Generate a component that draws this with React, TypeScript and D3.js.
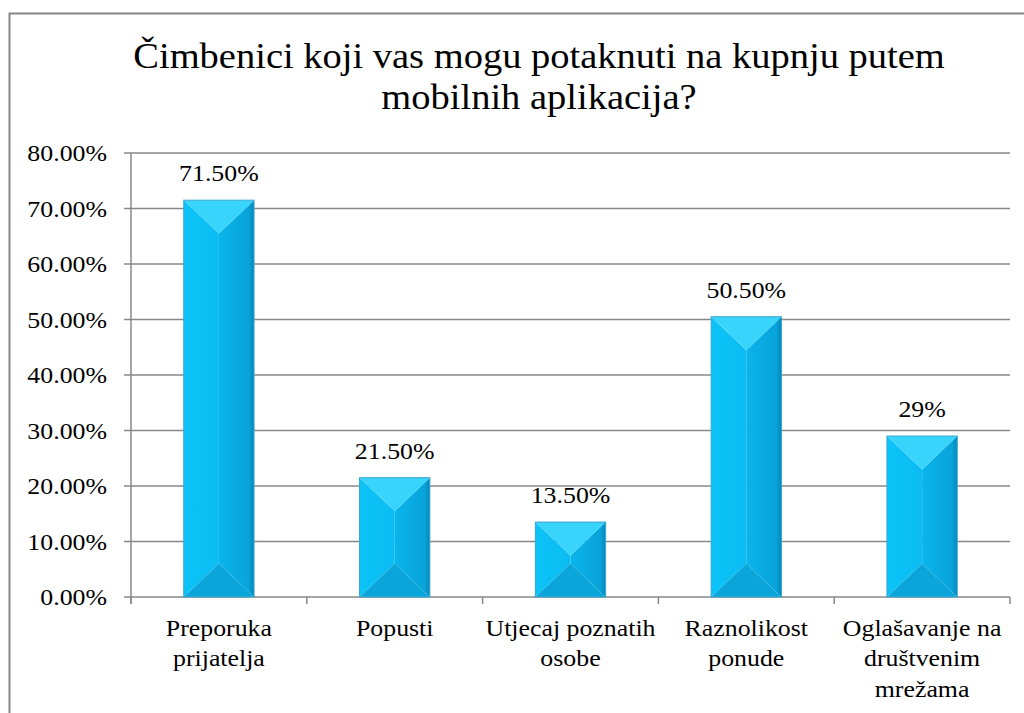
import React from "react";
import * as d3 from "d3";

const categories: string[][] = [
  ["Preporuka", "prijatelja"],
  ["Popusti"],
  ["Utjecaj poznatih", "osobe"],
  ["Raznolikost", "ponude"],
  ["Oglašavanje na", "društvenim", "mrežama"],
];
const values: number[] = [71.5, 21.5, 13.5, 50.5, 29];
const valueLabels: string[] = ["71.50%", "21.50%", "13.50%", "50.50%", "29%"];
const yTicks: number[] = [0, 10, 20, 30, 40, 50, 60, 70, 80];
const titleLines: string[] = [
  "Čimbenici koji vas mogu potaknuti na kupnju putem",
  "mobilnih aplikacija?",
];

const W = 1024;
const H = 713;
const left = 131;
const right = 1010;
const top = 153;
const bottom = 597;
const FONT = '"Liberation Serif", "Times New Roman", Times, serif';
const SX = 1.1;

function T(props: {
  x: number;
  y: number;
  size: number;
  anchor?: string;
  lines: string[];
  lh?: number;
}) {
  const { x, y, size, anchor = "middle", lines, lh = 0 } = props;
  return (
    <text
      transform={`translate(${x},${y}) scale(${SX},1)`}
      textAnchor={anchor}
      style={{ fontFamily: FONT, fontSize: `${size}px` }}
      fill="#000"
    >
      {lines.map((l, j) => (
        <tspan key={j} x={0} y={j * lh}>
          {l}
        </tspan>
      ))}
    </text>
  );
}

export default function App() {
  const x = d3
    .scaleBand<number>()
    .domain(values.map((_, i) => i))
    .range([left, right])
    .paddingInner(0.6)
    .paddingOuter(0.3);
  const y = d3.scaleLinear().domain([0, 80]).range([bottom, top]);
  const bw = x.bandwidth();
  const step = (right - left) / values.length;

  return (
    <svg
      width={W}
      height={H}
      style={{ position: "absolute", left: 0, top: 0, background: "#fff", fontFamily: FONT }}
    >
      <defs>
        <linearGradient id="sideL" x1="0" x2="1" y1="0" y2="0">
          <stop offset="0" stopColor="#0cc3f8" />
          <stop offset="1" stopColor="#0bbcf2" />
        </linearGradient>
        <linearGradient id="sideR" x1="0" x2="1" y1="0" y2="0">
          <stop offset="0" stopColor="#0ab5ec" />
          <stop offset="0.85" stopColor="#08a3da" />
          <stop offset="1" stopColor="#0686ba" />
        </linearGradient>
      </defs>
      <rect x={9.5} y={13.5} width={W + 20} height={H + 20} fill="#fff" stroke="#868686" strokeWidth={2} />
      <T x={539} y={68} size={35} lines={titleLines} lh={41} />
      {yTicks.map((t) => (
        <g key={t}>
          <line x1={124} x2={right} y1={y(t)} y2={y(t)} stroke="#888" strokeWidth={1.5} />
          <T x={107} y={y(t) + 8} size={23.5} anchor="end" lines={[`${t.toFixed(2)}%`]} />
        </g>
      ))}
      <line x1={left} x2={left} y1={top} y2={bottom + 7} stroke="#888" strokeWidth={1.5} />
      {d3.range(values.length + 1).map((i) => (
        <line
          key={i}
          x1={left + i * step}
          x2={left + i * step}
          y1={bottom}
          y2={bottom + 7}
          stroke="#888"
          strokeWidth={1.5}
        />
      ))}
      {values.map((v, i) => {
        const x0 = x(i)!;
        const x1 = x0 + bw;
        const y0 = y(v);
        const y1 = y(0);
        const h = y1 - y0;
        const d = Math.min((bw / 2) * 0.95, h / 2);
        const cx = x0 + bw / 2;
        return (
          <g key={i}>
            <polygon points={`${x0},${y0} ${cx},${y0 + d} ${cx},${y1 - d} ${x0},${y1}`} fill="url(#sideL)" />
            <polygon points={`${x1},${y0} ${cx},${y0 + d} ${cx},${y1 - d} ${x1},${y1}`} fill="url(#sideR)" />
            <polygon points={`${x0},${y0} ${x1},${y0} ${cx},${y0 + d}`} fill="#38d4fc" />
            <polygon points={`${x0},${y1} ${x1},${y1} ${cx},${y1 - d}`} fill="#0aa5d9" />
            <rect x={x0} y={y0} width={bw} height={h} fill="none" stroke="#3aa6d0" strokeWidth={1} />
            <T x={cx} y={y0 - 19} size={23.5} lines={[valueLabels[i]]} />
          </g>
        );
      })}
      {categories.map((lines, i) => (
        <T key={i} x={left + step * (i + 0.5)} y={636} size={23.5} lines={lines} lh={30.5} />
      ))}
    </svg>
  );
}
